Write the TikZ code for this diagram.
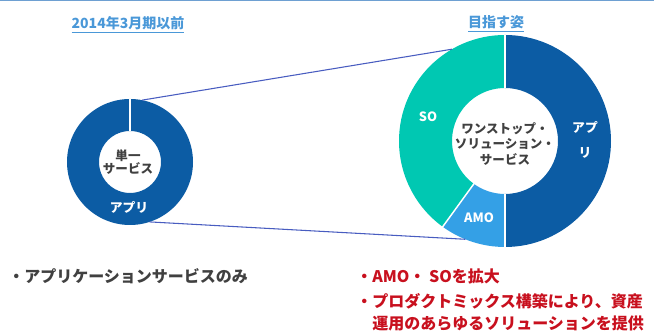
\documentclass[tikz,border=0pt]{standalone}
\usepackage{fontspec}
\setmainfont{Noto Sans CJK JP}
\usetikzlibrary{calc}
\definecolor{appblue}{RGB}{12,92,164}
\definecolor{soteal}{RGB}{0,200,178}
\definecolor{amoblue}{RGB}{52,160,230}
\definecolor{titleblue}{RGB}{74,152,216}
\definecolor{linkblue}{RGB}{72,92,192}
\definecolor{redtxt}{RGB}{200,16,30}
\definecolor{graytxt}{RGB}{64,64,64}
\definecolor{topline}{RGB}{110,160,210}
\tikzset{
  ring/.style={circle, inner sep=0pt, outer sep=0pt},
  title/.style={font=\bfseries\fontsize{10.5pt}{12pt}\selectfont, text=titleblue, inner sep=0pt},
  inlabel/.style={font=\bfseries\fontsize{9.4pt}{11pt}\selectfont, text=graytxt, align=center, inner sep=0pt},
  seglabel/.style={font=\bfseries\fontsize{9.6pt}{11pt}\selectfont, text=white, inner sep=0pt},
  bullettxt/.style={font=\bfseries\fontsize{12pt}{14pt}\selectfont, anchor=west, inner sep=0pt},
  link/.style={draw=linkblue, line width=0.8pt},
  seam/.style={draw=white, line width=1.1pt}
}
\begin{document}
\begin{tikzpicture}[x=0.75pt,y=0.75pt]
\useasboundingbox (0,0) rectangle (654,334);
\draw[topline, line width=1.2pt] (0,333.4) -- (654,333.4);
% centers
\coordinate (lc) at (130,172);
\coordinate (rc) at (505,193);
% left donut
\fill[appblue, even odd rule] (lc) circle (47.25pt) (lc) circle (23.25pt);
\draw[seam] ($(lc)+(90:23pt)$) -- ($(lc)+(90:47.5pt)$);
\node[ring, minimum size=94.5pt] (L) at (lc) {};
% right donut
\fill[appblue] ($(rc)+(90:79.5pt)$) arc[start angle=90, end angle=-90, radius=79.5pt]
  -- ($(rc)+(-90:39.75pt)$) arc[start angle=-90, end angle=90, radius=39.75pt] -- cycle;
\fill[soteal] ($(rc)+(90:79.5pt)$) arc[start angle=90, end angle=234, radius=79.5pt]
  -- ($(rc)+(234:39.75pt)$) arc[start angle=234, end angle=90, radius=39.75pt] -- cycle;
\fill[amoblue] ($(rc)+(234:79.5pt)$) arc[start angle=234, end angle=270, radius=79.5pt]
  -- ($(rc)+(270:39.75pt)$) arc[start angle=270, end angle=234, radius=39.75pt] -- cycle;
\draw[seam] ($(rc)+(90:39.5pt)$) -- ($(rc)+(90:79.8pt)$);
\draw[seam] ($(rc)+(234:39.5pt)$) -- ($(rc)+(234:79.8pt)$);
\draw[seam] ($(rc)+(270:39.5pt)$) -- ($(rc)+(270:79.8pt)$);
\node[ring, minimum size=159pt] (R) at (rc) {};
% connectors
\draw[link] (L.79) -- (R.120.5);
\draw[link] (L.-72) -- (R.-112);
% titles
\node[title] (t1) at (128,309) {\underline{2014年3月期以前}};
\node[title] (t2) at (496,310) {\underline{目指す姿}};
% left labels
\node[inlabel] (lin) at (128,172) {単一\\[-1pt]サービス};
\node[seglabel] (lapp) at (129,127) {アプリ};
% right labels
\node[inlabel, align=center] (rin) at (505,190) {ワンストップ・\\[0.5pt]ソリューション・\\[0.5pt]サービス};
\node[seglabel] (so) at (428,217) {SO};
\node[seglabel] (app1) at (585,207) {アプ};
\node[seglabel] (app2) at (585,181) {リ};
\node[seglabel] (amo) at (479,116) {AMO};
% bottom texts
\node[bullettxt, text=graytxt] (b1) at (8,58) {・アプリケーションサービスのみ};
\node[bullettxt, text=redtxt] (r1) at (356,58) {・AMO・ SOを拡大};
\node[bullettxt, text=redtxt] (r2) at (356,33) {・プロダクトミックス構築により、資産};
\node[bullettxt, text=redtxt] (r3) at (372,11) {運用のあらゆるソリューションを提供};
\end{tikzpicture}
\end{document}
